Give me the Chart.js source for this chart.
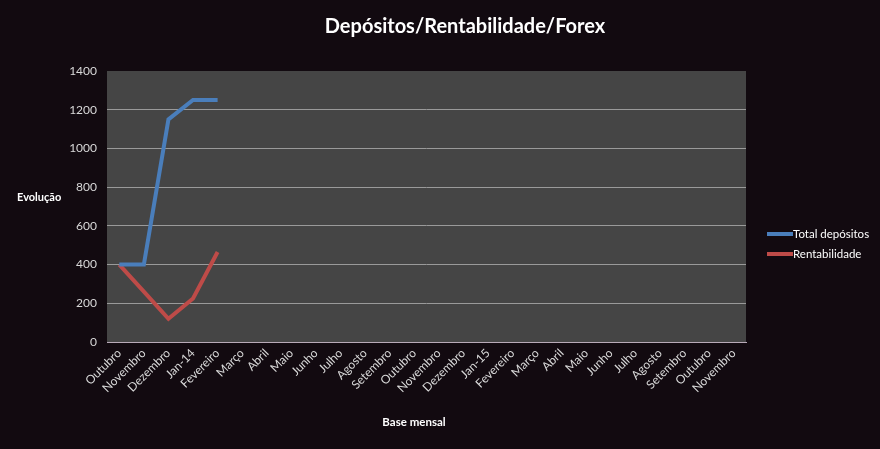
<!DOCTYPE html>
<html>
<head>
<meta charset="utf-8">
<script src="https://cdn.jsdelivr.net/npm/chart.js@4.4.0/dist/chart.umd.min.js"></script>
<style>
html,body{margin:0;padding:0;background:#120a10;}
#wrap{width:880px;height:449px;position:relative;}
</style>
</head>
<body>
<div id="wrap"><canvas id="c" width="880" height="449"></canvas></div>
<script>
const categories = ["Outubro","Novembro","Dezembro","Jan-14","Fevereiro","Março","Abril","Maio","Junho","Julho","Agosto","Setembro","Outubro","Novembro","Dezembro","Jan-15","Fevereiro","Março","Abril","Maio","Junho","Julho","Agosto","Setembro","Outubro","Novembro"];
const totalDepositos = [400, 400, 1150, 1250, 1250];
const rentabilidade = [400, 260, 120, 225, 465];
const yTicks = [0, 200, 400, 600, 800, 1000, 1200, 1400];
const chartTitle = "Depósitos/Rentabilidade/Forex";
const yTitle = "Evolução";
const xTitle = "Base mensal";
const seriesNames = ["Total depósitos", "Rentabilidade"];

const FONT = "Lato, 'Open Sans', sans-serif";

const decor = {
  id: 'decor',
  beforeDraw(chart) {
    const {ctx, chartArea: a} = chart;
    ctx.save();
    ctx.fillStyle = '#120a10';
    ctx.fillRect(0, 0, chart.width, chart.height);
    ctx.fillStyle = '#454545';
    ctx.fillRect(a.left, a.top, a.right - a.left, a.bottom - a.top);
    ctx.restore();
  },
  afterDraw(chart) {
    const {ctx} = chart;
    ctx.save();
    ctx.fillStyle = '#ffffff';
    ctx.textBaseline = 'middle';
    ctx.textAlign = 'center';
    ctx.font = "bold 20px " + FONT;
    ctx.fillText(chartTitle, 465, 27);
    ctx.font = "bold 11px " + FONT;
    ctx.textAlign = 'left';
    ctx.fillText(yTitle, 17, 197);
    ctx.textAlign = 'center';
    ctx.font = "bold 11.5px " + FONT;
    ctx.fillText(xTitle, 414, 422);
    // legend
    ctx.font = "11.5px " + FONT;
    ctx.textAlign = 'left';
    chart.data.datasets.forEach((ds, i) => {
      const y = 234 + i * 20;
      ctx.strokeStyle = ds.borderColor;
      ctx.lineWidth = 4;
      ctx.beginPath();
      ctx.moveTo(767, y);
      ctx.lineTo(793, y);
      ctx.stroke();
      ctx.fillStyle = '#ffffff';
      ctx.fillText(ds.label, 793, y);
    });
    ctx.restore();
  }
};

new Chart(document.getElementById('c'), {
  type: 'line',
  data: {
    labels: categories,
    datasets: [
      {label: seriesNames[0], data: totalDepositos, borderColor: '#4a7ebb', borderWidth: 4, pointRadius: 0, tension: 0},
      {label: seriesNames[1], data: rentabilidade, borderColor: '#be4b48', borderWidth: 4, pointRadius: 0, tension: 0}
    ]
  },
  options: {
    responsive: false,
    animation: false,
    devicePixelRatio: 1,
    layout: {padding: {left: 0, right: 134, top: 71, bottom: 0}},
    plugins: {legend: {display: false}, title: {display: false}, tooltip: {enabled: false}},
    scales: {
      x: {
        offset: true,
        grid: {display: false, drawTicks: false},
        border: {display: true, color: '#b8aab8', width: 1},
        ticks: {color: '#d8d8d8', font: {family: FONT, size: 12}, maxRotation: 45, minRotation: 45, autoSkip: false, padding: 4},
        afterFit(s) { s.height = 107; }
      },
      y: {
        min: 0, max: 1400,
        afterBuildTicks(s) { s.ticks = yTicks.map(v => ({value: v})); },
        grid: {color: (c) => c.tick && c.tick.value === 1400 ? 'rgba(0,0,0,0)' : '#9a9a9a', drawTicks: false, lineWidth: 1},
        border: {display: false},
        ticks: {color: '#d8d8d8', font: {family: FONT, size: 12}, padding: 10, callback: (v) => String(v)},
        afterFit(s) { s.width = 107; }
      }
    }
  },
  plugins: [decor]
});
</script>
</body>
</html>
